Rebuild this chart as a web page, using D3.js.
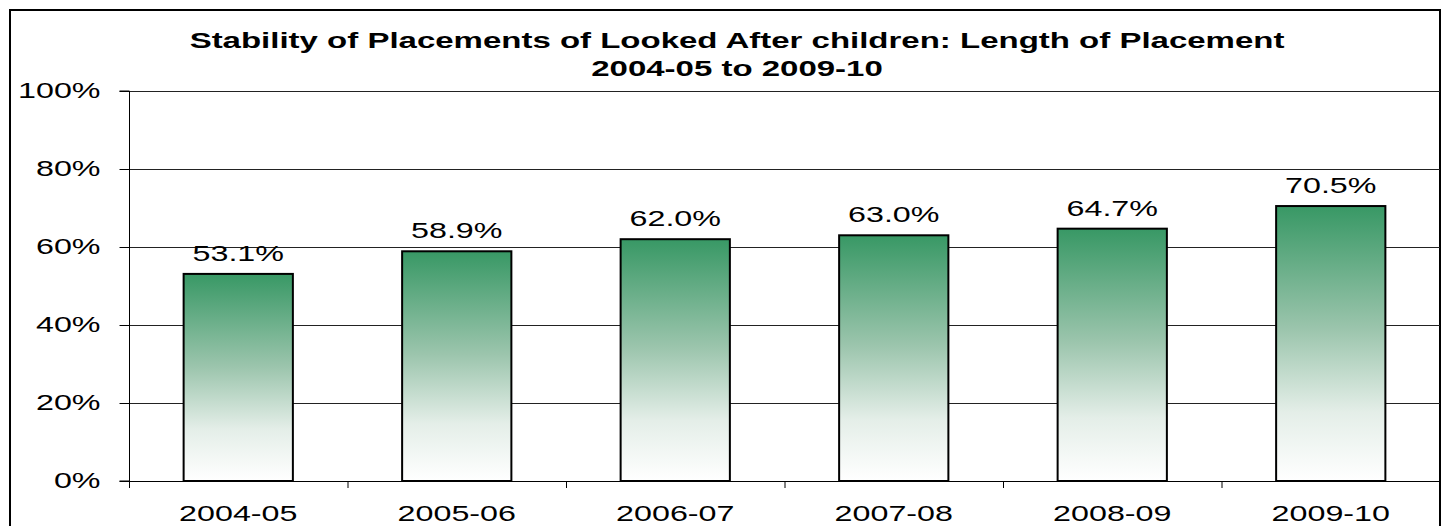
<!DOCTYPE html>
<html><head><meta charset="utf-8">
<script src="https://cdn.jsdelivr.net/npm/d3@7"></script>
<style>body{margin:0;background:#fff;}svg{display:block;font-family:"Liberation Sans",Arial,sans-serif;}</style>
</head><body>
<svg id="c" width="1444" height="526"></svg>
<script>
const categories = ["2004-05","2005-06","2006-07","2007-08","2008-09","2009-10"];
const values = [53.1, 58.9, 62.0, 63.0, 64.7, 70.5];
const yTicks = [0, 20, 40, 60, 80, 100];
const titleLines = ["Stability of Placements of Looked After children: Length of Placement", "2004-05 to 2009-10"];

const SX = 1.5; // horizontal stretch of text as in the reference
const FS = 21.5;
const svg = d3.select("#c");
const m = {left:129, right:1440, top:91, bottom:481};

// outer border
svg.append("rect").attr("x",10).attr("y",10).attr("width",1430).attr("height",530)
  .attr("fill","none").attr("stroke","#000").attr("stroke-width",2);

const defs = svg.append("defs");
const g = defs.append("linearGradient").attr("id","grad").attr("x1",0).attr("y1",0).attr("x2",0).attr("y2",1);
g.append("stop").attr("offset","0%").attr("stop-color","#389865");
g.append("stop").attr("offset","45%").attr("stop-color","#9cc5ad");
g.append("stop").attr("offset","75%").attr("stop-color","#e4eee8");
g.append("stop").attr("offset","100%").attr("stop-color","#ffffff");

const x = d3.scaleBand().domain(categories).range([m.left, m.right]).paddingInner(0.5).paddingOuter(0.25);
const xb = d3.scaleBand().domain(categories).range([m.left, m.right]);
const y = d3.scaleLinear().domain([0,100]).range([m.bottom, m.top]);

// gridlines
svg.append("g").selectAll("line").data(yTicks.filter(d=>d>0)).join("line")
  .attr("x1",m.left).attr("x2",m.right).attr("y1",d=>y(d)+0.5).attr("y2",d=>y(d)+0.5)
  .attr("stroke","#222").attr("stroke-width",1);

// y axis
const ya = svg.append("g").attr("transform",`translate(${m.left+0.5},0)`)
  .call(d3.axisLeft(y).tickValues(yTicks).tickFormat(d=>d+"%").tickSize(10).tickPadding(8));
ya.select(".domain").attr("stroke","#000").attr("d",`M-10,${m.top}H0V${m.bottom}H-10`);
ya.selectAll(".tick line").attr("stroke","#000");
ya.selectAll(".tick text").attr("font-size",FS).attr("fill","#000")
  .attr("font-family","Liberation Sans, Arial, sans-serif")
  .attr("x",-29/SX).attr("transform",`scale(${SX},1)`);

// x axis
const xa = svg.append("g").attr("transform",`translate(0,${m.bottom+0.5})`)
  .call(d3.axisBottom(xb).tickSize(0).tickPadding(24));
xa.select(".domain").attr("stroke","#000").attr("d",`M${m.left},0H${m.right}`);
xa.selectAll(".tick text").attr("font-size",FS).attr("fill","#000")
  .attr("font-family","Liberation Sans, Arial, sans-serif")
  .attr("transform",`scale(${SX},1)`);
svg.append("g").selectAll("line").data(d3.range(categories.length+1)).join("line")
  .attr("x1",i=>(i<categories.length?xb(categories[i]):m.right)+0.5)
  .attr("x2",i=>(i<categories.length?xb(categories[i]):m.right)+0.5)
  .attr("y1",m.bottom).attr("y2",m.bottom+7).attr("stroke","#000");

// bars
svg.append("g").selectAll("rect").data(values).join("rect")
  .attr("x",(d,i)=>x(categories[i])).attr("width",x.bandwidth())
  .attr("y",d=>y(d)).attr("height",d=>y(0)-y(d))
  .attr("fill","url(#grad)").attr("stroke","#000").attr("stroke-width",2);

// value labels
svg.append("g").selectAll("text").data(values).join("text")
  .attr("transform",(d,i)=>`translate(${x(categories[i])+x.bandwidth()/2},${y(d)-13}) scale(${SX},1)`)
  .attr("text-anchor","middle").attr("font-size",FS).attr("fill","#000")
  .text(d=>d.toFixed(1)+"%");

// title
svg.append("g").selectAll("text").data(titleLines).join("text")
  .attr("transform",(d,i)=>`translate(737,${48+i*28}) scale(${SX},1)`).attr("text-anchor","middle")
  .attr("font-size",22).attr("font-weight","bold").attr("fill","#000").text(d=>d);
</script>
</body></html>
